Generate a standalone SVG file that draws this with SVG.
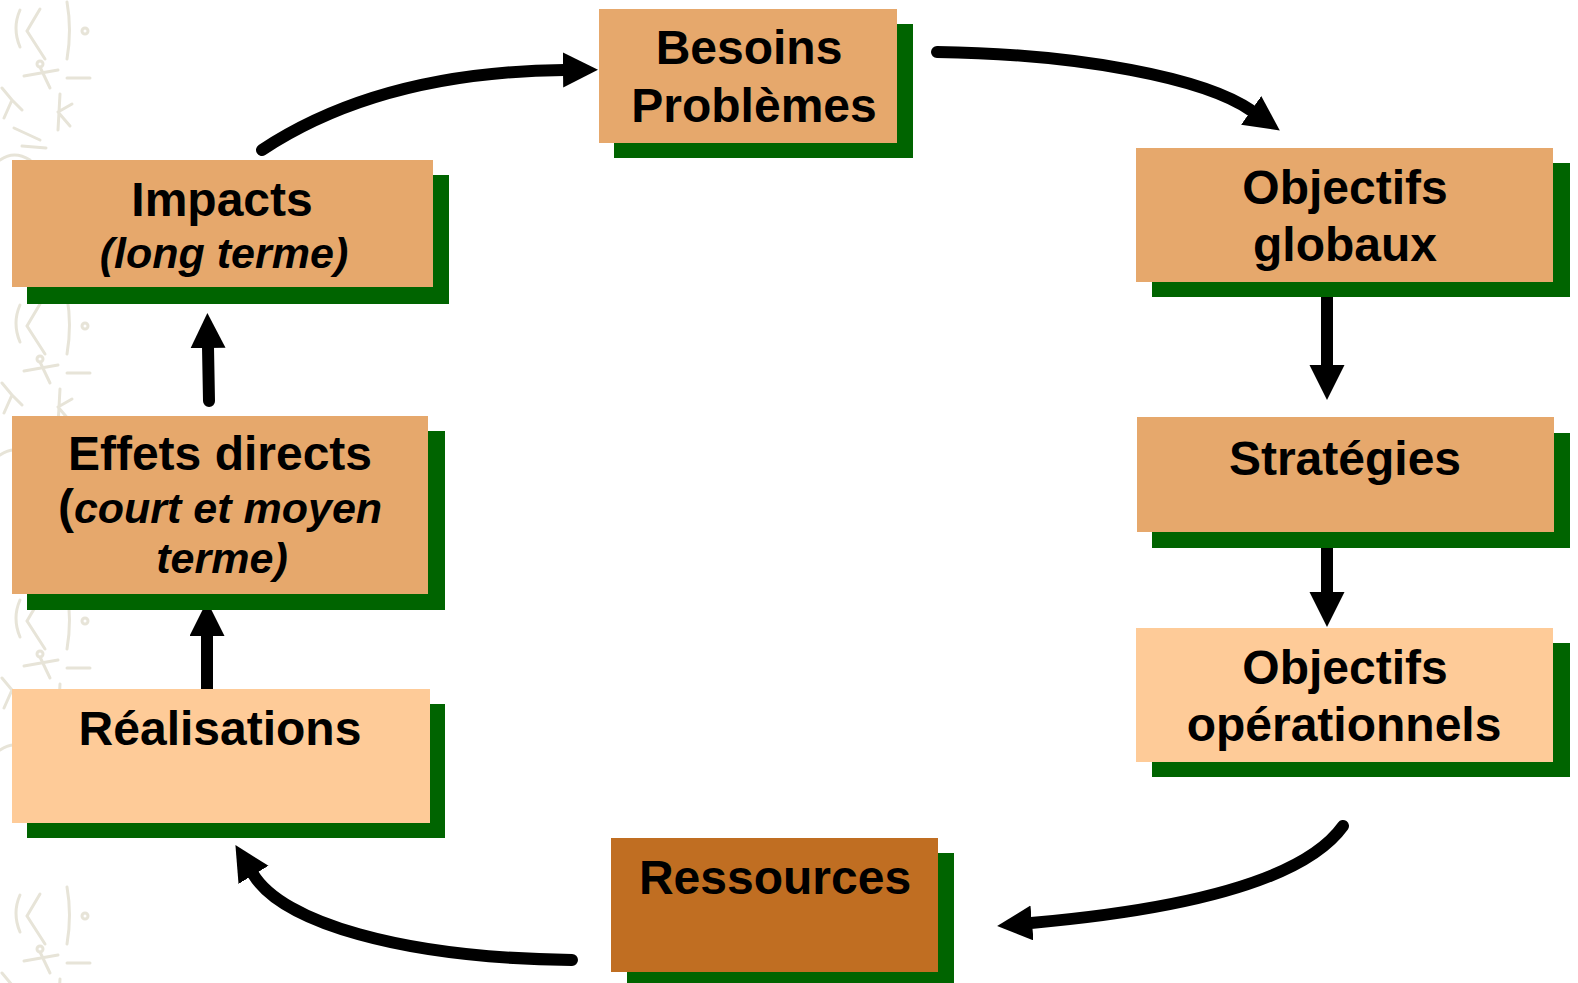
<svg xmlns="http://www.w3.org/2000/svg" width="1578" height="983" viewBox="0 0 1578 983">
<style>
.shadow{fill:#006400}
.dark{fill:#E6A86C}
.light{fill:#FECB98}
.res{fill:#C06E22}
.t{font-family:"Liberation Sans",Arial,sans-serif;font-weight:bold;font-size:48px;fill:#000;text-anchor:middle}
.i{font-style:italic;font-size:43px}
.conn{fill:none;stroke:#000;stroke-width:12;stroke-linecap:round;stroke-linejoin:round}
.wm{fill:none;stroke:#E7E4D8;stroke-width:3;stroke-linecap:round}
</style>
<defs>
<marker id="ah" markerUnits="userSpaceOnUse" markerWidth="36" markerHeight="36" viewBox="0 0 36 36" refX="1" refY="17.5" orient="auto">
<path d="M0,0 L35,17.5 L0,35 z" fill="#000"/>
</marker>
<pattern id="wmp" patternUnits="userSpaceOnUse" x="0" y="0" width="100" height="295">
<path class="wm" d="M20,10 Q12,28 20,47"/>
<path class="wm" d="M40,9 L27,31 L45,59"/>
<path class="wm" d="M67,2 Q72,30 67,59"/>
<circle class="wm" cx="85" cy="31" r="3"/>
<circle class="wm" cx="40" cy="64" r="3"/>
<path class="wm" d="M24,76 L58,70 M40,67 L50,88 M67,78 L90,78"/>
<path class="wm" d="M2,88 L12,100 L4,118 M12,100 L22,110"/>
<path class="wm" d="M60,94 L58,130 M58,112 L72,104 M58,112 L70,126"/>
<path class="wm" d="M14,128 L40,140 M22,146 L46,148"/>
<path class="wm" d="M0,160 Q14,150 30,160"/>
</pattern>
</defs>
<rect x="0" y="0" width="96" height="983" fill="url(#wmp)"/>

<g id="connectors">
<path class="conn" d="M262,150 Q380,72 564,70" marker-end="url(#ah)"/>
<path class="conn" d="M937,52 C1080,54 1205,78 1252,111" marker-end="url(#ah)"/>
<path class="conn" d="M1327,296 L1327,366" marker-end="url(#ah)"/>
<path class="conn" d="M1327,548 L1327,593" marker-end="url(#ah)"/>
<path class="conn" d="M1343,826 Q1290,900 1031,923" marker-end="url(#ah)"/>
<path class="conn" d="M572,960 C400,958 282,922 253,874" marker-end="url(#ah)"/>
<path class="conn" d="M207,689 L207,635" marker-end="url(#ah)"/>
<path class="conn" d="M209,401 L208,347" marker-end="url(#ah)"/>
</g>

<g id="besoins">
<rect class="shadow" x="614" y="24" width="299" height="134"/>
<rect class="dark" x="599" y="9" width="298" height="134"/>
<text class="t" x="749" y="64">Besoins</text>
<text class="t" x="754" y="122">Problèmes</text>
</g>

<g id="objectifs-globaux">
<rect class="shadow" x="1152" y="163" width="418" height="134"/>
<rect class="dark" x="1136" y="148" width="417" height="134"/>
<text class="t" x="1345" y="204">Objectifs</text>
<text class="t" x="1345" y="261">globaux</text>
</g>

<g id="strategies">
<rect class="shadow" x="1152" y="433" width="418" height="115"/>
<rect class="dark" x="1137" y="417" width="417" height="115"/>
<text class="t" x="1345" y="475">Stratégies</text>
</g>

<g id="objectifs-operationnels">
<rect class="shadow" x="1152" y="643" width="418" height="134"/>
<rect class="light" x="1136" y="628" width="417" height="134"/>
<text class="t" x="1345" y="684">Objectifs</text>
<text class="t" x="1344" y="741">opérationnels</text>
</g>

<g id="ressources">
<rect class="shadow" x="627" y="853" width="327" height="135"/>
<rect class="res" x="611" y="838" width="327" height="134"/>
<text class="t" x="775" y="894">Ressources</text>
</g>

<g id="realisations">
<rect class="shadow" x="27" y="704" width="418" height="134"/>
<rect class="light" x="12" y="689" width="418" height="134"/>
<text class="t" x="220" y="745">Réalisations</text>
</g>

<g id="effets-directs">
<rect class="shadow" x="27" y="431" width="418" height="179"/>
<rect class="dark" x="12" y="416" width="416" height="178"/>
<text class="t" x="220" y="470">Effets directs</text>
<text class="t" x="220" y="523">(<tspan class="i">court et moyen</tspan></text>
<text class="t i" x="222" y="573">terme)</text>
</g>

<g id="impacts">
<rect class="shadow" x="27" y="175" width="422" height="129"/>
<rect class="dark" x="12" y="160" width="421" height="127"/>
<text class="t" x="222" y="216">Impacts</text>
<text class="t i" x="224" y="268">(long terme)</text>
</g>
</svg>
